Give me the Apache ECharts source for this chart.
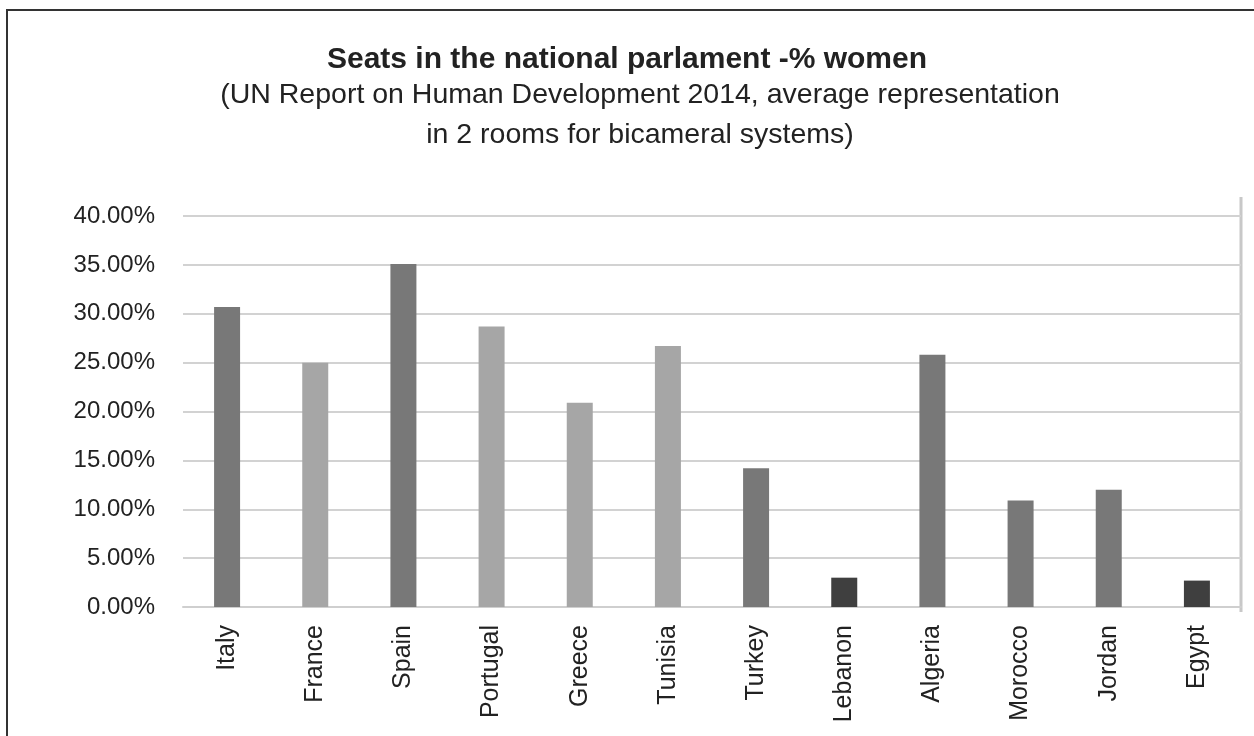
<!DOCTYPE html>
<html>
<head>
<meta charset="utf-8">
<script src="https://cdn.jsdelivr.net/npm/echarts@6/dist/echarts.min.js"></script>
<style>
	html, body { margin: 0; padding: 0; background: #fff; }
	#chart { width: 1254px; height: 736px; }
</style>
</head>
<body>
<div id="chart"></div>
<script>
// data (% of seats held by women)
var countries = [ 'Italy', 'France', 'Spain', 'Portugal', 'Greece', 'Tunisia',
		'Turkey', 'Lebanon', 'Algeria', 'Morocco', 'Jordan', 'Egypt' ];
var womenShare = [ 30.7, 25.0, 35.1, 28.7, 20.9, 26.7, 14.2, 3.0, 25.8, 10.9, 12.0, 2.7 ];
var yTicks = [ 0, 5, 10, 15, 20, 25, 30, 35, 40 ];

var titleText = 'Seats in the national parlament -% women';
var subText = '(UN Report on Human Development 2014, average representation\nin 2 rooms for bicameral systems)';

// bar shades, one per category
var barColors = [ '#787878', '#a6a6a6', '#787878', '#a6a6a6', '#a6a6a6', '#a6a6a6',
		'#787878', '#3f3f3f', '#787878', '#787878', '#787878', '#3f3f3f' ];

var FONT = '"Liberation Sans", Arial, sans-serif';

function showChart(divId) {
	var chart = echarts.init(document.getElementById(divId));
	chart.setOption(genOption(), true);
}

function genOption() {
	var option = {
		backgroundColor : '#fff',
		animation : false,
		title : {
			text : titleText,
			left : 'center',
			top : 40,
			textStyle : {
				fontFamily : FONT,
				fontSize : 30,
				fontWeight : 'bold',
				color : '#222'
			}
		},
		grid : {
			left : 183,
			right : 13,
			top : 216,
			bottom : 129
		},
		xAxis : {
			type : 'category',
			data : countries,
			axisLine : { show : true, lineStyle : { color : '#cfcfcf', width : 2 } },
			axisTick : { show : false },
			axisLabel : {
				rotate : 90,
				margin : 18,
				fontFamily : FONT,
				fontSize : 25,
				color : '#222'
			}
		},
		yAxis : {
			type : 'value',
			min : yTicks[0],
			max : yTicks[yTicks.length - 1],
			interval : yTicks[1] - yTicks[0],
			axisLine : { show : false },
			axisTick : { show : false },
			splitLine : { lineStyle : { color : '#d2d2d2', width : 2 } },
			axisLabel : {
				margin : 28,
				fontFamily : FONT,
				fontSize : 24,
				color : '#222',
				formatter : function(v) {
					return v.toFixed(2) + '%';
				}
			}
		},
		series : [ {
			type : 'bar',
			barWidth : 26,
			data : womenShare.map(function(v, i) {
				return { value : v, itemStyle : { color : barColors[i] } };
			})
		} ],
		graphic : [ {
			type : 'rect',
			shape : { x : 7, y : 10, width : 1300, height : 760 },
			style : { fill : null, stroke : '#333', lineWidth : 2 }
		}, {
			type : 'line',
			shape : { x1 : 1241, y1 : 197, x2 : 1241, y2 : 612 },
			style : { stroke : '#c8c8c8', lineWidth : 3 }
		}, {
			// subtitle, centred a little right of the main title as in the original
			type : 'text',
			x : 640,
			y : 75,
			style : {
				text : subText,
				align : 'center',
				verticalAlign : 'top',
				fontFamily : FONT,
				fontSize : 28.5,
				lineHeight : 40,
				fill : '#222'
			}
		} ]
	};
	return option;
}

showChart('chart');
</script>
</body>
</html>
